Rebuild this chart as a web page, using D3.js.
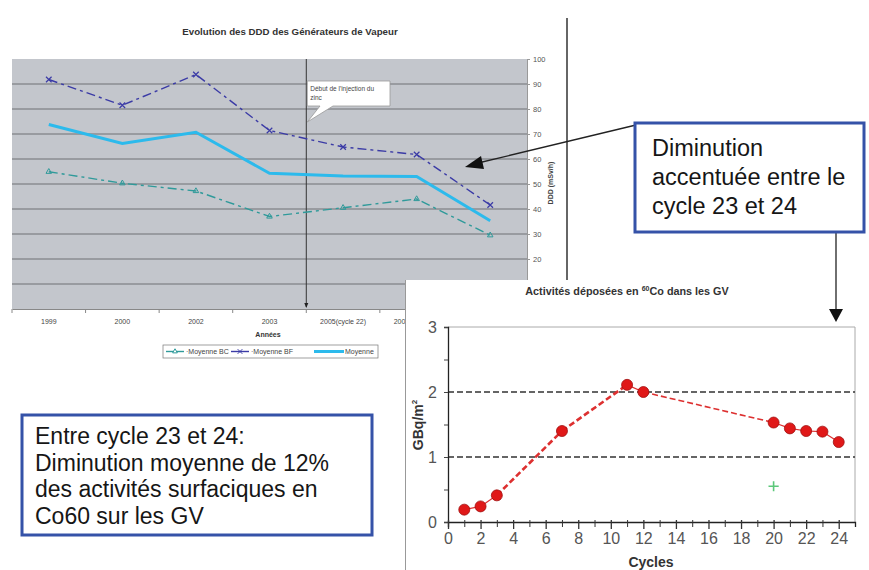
<!DOCTYPE html>
<html>
<head>
<meta charset="utf-8">
<script src="https://cdn.jsdelivr.net/npm/d3@7"></script>
<style>
  body { margin: 0; background: #fff; }
  text { font-family: Arial, "Liberation Sans", sans-serif; }
</style>
</head>
<body>
<div id="chart"></div>
<script>
// Top chart data (DDD des GV)
const years = ["1999", "2000", "2002", "2003", "2005(cycle 22)", "2006(cycle 23)", "2007(cycle 24)"];
const moyenneBC = [54.9, 50.3, 47.2, 37.0, 40.5, 44.0, 29.5];
const moyenneBF = [91.8, 81.5, 93.8, 71.4, 64.8, 61.8, 41.6];
const moyenne = [73.8, 66.2, 70.7, 54.3, 53.2, 53.0, 35.3];
const dddTicks = [20, 30, 40, 50, 60, 70, 80, 90, 100];

// Bottom chart data (60Co activities)
const cycles = [1, 2, 3, 7, 11, 12, 20, 21, 22, 23, 24];
const activite = [0.19, 0.24, 0.41, 1.40, 2.11, 2.00, 1.53, 1.44, 1.40, 1.39, 1.23];
const extraPoint = [{cycle: 20, value: 0.55}];
const cycleTicks = d3.range(0, 25);
const gbqTicks = [0, 0.5, 1, 1.5, 2, 2.5, 3];

const W = 869, H = 570;
const svg = d3.select("#chart").append("svg")
  .attr("width", W)
  .attr("height", H);

// clip for the part of the top chart hidden by the lower panel
svg.append("clipPath").attr("id", "leftOfPanel")
  .append("rect").attr("x", 0).attr("y", 0).attr("width", 405).attr("height", H);

// ---------- Top chart ----------
const topChart = svg.append("g");
const xTop = d3.scaleBand().domain(years).range([12, 527]);
const yTop = d3.scaleLinear().domain([0, 100]).range([309, 59]);

topChart.append("text")
  .attr("x", 290).attr("y", 35)
  .attr("text-anchor", "middle")
  .attr("font-size", 9.7).attr("font-weight", "bold").attr("fill", "#333")
  .text("Evolution des DDD des Générateurs de Vapeur");

topChart.append("rect")
  .attr("x", 12).attr("y", yTop(100))
  .attr("width", 515).attr("height", yTop(0) - yTop(100))
  .attr("fill", "#c3c6cc");

// gridlines
topChart.append("g").selectAll("line")
  .data(d3.range(10, 100, 10))
  .join("line")
  .attr("x1", 12).attr("x2", 527)
  .attr("y1", d => yTop(d)).attr("y2", d => yTop(d))
  .attr("stroke", "#6e7074").attr("stroke-width", 1);

// right axis
const yAx = topChart.append("g")
  .attr("transform", "translate(527,0)")
  .call(d3.axisRight(yTop).tickValues(dddTicks).tickSize(3).tickPadding(3));
yAx.select(".domain").attr("stroke", "#999");
yAx.selectAll("line").attr("stroke", "#999");
yAx.selectAll("text").attr("font-size", 7.5).attr("fill", "#555");

topChart.append("text")
  .attr("transform", "translate(553,183) rotate(-90)")
  .attr("text-anchor", "middle")
  .attr("font-size", 7).attr("font-weight", "bold").attr("fill", "#444")
  .text("DDD (mSv/h)");

// bottom axis
const xAx = topChart.append("g")
  .attr("transform", `translate(0,${yTop(0)})`)
  .call(d3.axisBottom(xTop).tickSize(0).tickPadding(10));
xAx.select(".domain").attr("stroke", "#888");
xAx.selectAll("text").attr("font-size", 7).attr("fill", "#444");
xAx.selectAll(".tick").filter(d => cxBand(d) > 405).remove();
xAx.attr("clip-path", "url(#leftOfPanel)");
function cxBand(d) { return xTop(d) + xTop.bandwidth() / 2 - 20; }
topChart.append("g").selectAll("line")
  .data(years.concat(["end"]))
  .join("line")
  .attr("x1", (d, i) => 12 + i * xTop.step())
  .attr("x2", (d, i) => 12 + i * xTop.step())
  .attr("y1", yTop(0)).attr("y2", yTop(0) + 4)
  .attr("stroke", "#888");

topChart.append("text")
  .attr("x", 268).attr("y", 337)
  .attr("text-anchor", "middle")
  .attr("font-size", 7).attr("font-weight", "bold").attr("fill", "#333")
  .text("Années");

// zinc injection marker
const xZinc = xTop("2005(cycle 22)");
topChart.append("line")
  .attr("x1", xZinc).attr("x2", xZinc)
  .attr("y1", yTop(100)).attr("y2", yTop(0) - 2)
  .attr("stroke", "#333").attr("stroke-width", 1);
topChart.append("path")
  .attr("d", `M${xZinc - 2},${yTop(0) - 6} L${xZinc + 2},${yTop(0) - 6} L${xZinc},${yTop(0) - 1} Z`)
  .attr("fill", "#222");

const cx = d => xTop(d) + xTop.bandwidth() / 2;
const lineTop = d3.line().x((d, i) => cx(years[i])).y(d => yTop(d));

topChart.append("path").datum(moyenneBC)
  .attr("d", lineTop).attr("fill", "none")
  .attr("stroke", "#2f9a9a").attr("stroke-width", 1.4)
  .attr("stroke-dasharray", "9,4,3,4");
topChart.append("path").datum(moyenneBF)
  .attr("d", lineTop).attr("fill", "none")
  .attr("stroke", "#3b3ba6").attr("stroke-width", 1.4)
  .attr("stroke-dasharray", "9,4,3,4");
topChart.append("path").datum(moyenne)
  .attr("d", lineTop).attr("fill", "none")
  .attr("stroke", "#2cbaec").attr("stroke-width", 3);

topChart.append("g").selectAll("path")
  .data(moyenneBC)
  .join("path")
  .attr("transform", (d, i) => `translate(${cx(years[i])},${yTop(d)})`)
  .attr("d", d3.symbol(d3.symbolTriangle2, 22))
  .attr("fill", "none").attr("stroke", "#2f9a9a").attr("stroke-width", 1);
topChart.append("g").selectAll("path")
  .data(moyenneBF)
  .join("path")
  .attr("transform", (d, i) => `translate(${cx(years[i])},${yTop(d)})`)
  .attr("d", d3.symbol(d3.symbolTimes, 22))
  .attr("fill", "none").attr("stroke", "#3b3ba6").attr("stroke-width", 1.2);

// callout
const callout = topChart.append("g");
callout.append("path")
  .attr("d", `M${xZinc + 1},81 L390,81 L390,106 L333,106 L${xZinc + 1},122 L320,106 L${xZinc + 1},106 Z`)
  .attr("fill", "#fff").attr("stroke", "#999").attr("stroke-width", 0.8);
callout.append("text")
  .attr("x", xZinc + 4).attr("y", 91)
  .attr("font-size", 6.5).attr("fill", "#444")
  .selectAll("tspan")
  .data(["Début de l'injection du", "zinc"])
  .join("tspan")
  .attr("x", xZinc + 4)
  .attr("dy", (d, i) => i === 0 ? 0 : 9)
  .text(d => d);

// legend
const leg = topChart.append("g");
leg.append("rect")
  .attr("x", 163).attr("y", 345).attr("width", 215).attr("height", 13)
  .attr("fill", "#fff").attr("stroke", "#777").attr("stroke-width", 0.7);
const legItems = [
  {name: "·Moyenne BC", color: "#2f9a9a", sym: d3.symbolTriangle2, x: 166, len: 18, tx: 186, w: 1.4},
  {name: "·Moyenne BF", color: "#3b3ba6", sym: d3.symbolTimes, x: 231, len: 18, tx: 251, w: 1.4},
  {name: "Moyenne", color: "#2cbaec", sym: null, x: 314, len: 30, tx: 345, w: 3}
];
legItems.forEach(it => {
  leg.append("line")
    .attr("x1", it.x).attr("x2", it.x + it.len)
    .attr("y1", 351.5).attr("y2", 351.5)
    .attr("stroke", it.color).attr("stroke-width", it.w);
  if (it.sym) {
    leg.append("path")
      .attr("transform", `translate(${it.x + it.len / 2},351.5)`)
      .attr("d", d3.symbol(it.sym, 16))
      .attr("fill", "#fff").attr("stroke", it.color);
  }
  leg.append("text")
    .attr("x", it.tx).attr("y", 354)
    .attr("font-size", 7).attr("fill", "#444")
    .text(it.name);
});

// frame line right of top chart
svg.append("line")
  .attr("x1", 567).attr("x2", 567).attr("y1", 18).attr("y2", 280)
  .attr("stroke", "#333").attr("stroke-width", 1.5);

// ---------- Bottom-right chart ----------
const bot = svg.append("g");
bot.append("rect")
  .attr("x", 405).attr("y", 280).attr("width", W - 405).attr("height", H - 280)
  .attr("fill", "#fff");
bot.append("line")
  .attr("x1", 405.5).attr("x2", 405.5).attr("y1", 280).attr("y2", H)
  .attr("stroke", "#999").attr("stroke-width", 1);

const xBot = d3.scaleLinear().domain([0, 25]).range([448, 855]);
const yBot = d3.scaleLinear().domain([0, 3]).range([522, 327]);

const botTitle = bot.append("text")
  .attr("x", 627).attr("y", 295)
  .attr("text-anchor", "middle")
  .attr("font-size", 10.8).attr("font-weight", "bold").attr("fill", "#333");
botTitle.append("tspan").text("Activités déposées en ");
botTitle.append("tspan").attr("font-size", 7).attr("dy", -4).text("60");
botTitle.append("tspan").attr("dy", 4).text("Co dans les GV");

// plot border (top/right)
bot.append("path")
  .attr("d", `M${xBot(0)},${yBot(3)} L${xBot(25)},${yBot(3)} L${xBot(25)},${yBot(0)}`)
  .attr("fill", "none").attr("stroke", "#aaa").attr("stroke-width", 1);

// dashed reference lines
bot.append("g").selectAll("line")
  .data([1, 2])
  .join("line")
  .attr("x1", xBot(0)).attr("x2", xBot(25))
  .attr("y1", d => yBot(d)).attr("y2", d => yBot(d))
  .attr("stroke", "#333").attr("stroke-width", 1.4)
  .attr("stroke-dasharray", "6,3");

const yAxB = bot.append("g")
  .attr("transform", `translate(${xBot(0)},0)`)
  .call(d3.axisLeft(yBot).tickValues(gbqTicks).tickSize(4).tickPadding(7)
    .tickFormat(d => Number.isInteger(d) ? d : ""));
yAxB.select(".domain").attr("stroke", "#222").attr("stroke-width", 1.3);
yAxB.selectAll("line").attr("stroke", "#444");
yAxB.selectAll("text").attr("font-size", 16).attr("fill", "#555");

const xAxB = bot.append("g")
  .attr("transform", `translate(0,${yBot(0)})`)
  .call(d3.axisBottom(xBot).tickValues(cycleTicks).tickSize(5).tickPadding(6)
    .tickFormat(d => d % 2 === 0 ? d : ""));
xAxB.select(".domain").attr("stroke", "#222").attr("stroke-width", 1.3);
xAxB.selectAll(".tick line")
  .attr("y1", -2)
  .attr("y2", d => d % 2 === 0 ? 7 : 5)
  .attr("stroke", "#333").attr("stroke-width", d => d % 2 === 0 ? 1.3 : 1);
xAxB.selectAll("text").attr("font-size", 16).attr("fill", "#555");

bot.append("text")
  .attr("x", 651).attr("y", 567)
  .attr("text-anchor", "middle")
  .attr("font-size", 14).attr("font-weight", "bold").attr("fill", "#333")
  .text("Cycles");
const yt = bot.append("text")
  .attr("transform", "translate(423,425) rotate(-90)")
  .attr("text-anchor", "middle")
  .attr("font-size", 14).attr("font-weight", "bold").attr("fill", "#333");
yt.append("tspan").text("GBq/m");
yt.append("tspan").attr("font-size", 8).attr("dy", -6).text("2");

// segments between successive cycles
const pts = cycles.map((c, i) => ({cycle: c, value: activite[i]}));
const segs = d3.pairs(pts);
bot.append("g").selectAll("line")
  .data(segs)
  .join("line")
  .attr("x1", d => xBot(d[0].cycle)).attr("y1", d => yBot(d[0].value))
  .attr("x2", d => xBot(d[1].cycle)).attr("y2", d => yBot(d[1].value))
  .attr("stroke", "#dd3030")
  .attr("stroke-width", d => {
    const gap = d[1].cycle - d[0].cycle;
    return gap === 1 ? 1.2 : (gap >= 6 ? 1.6 : 2.6);
  })
  .attr("stroke-dasharray", d => d[1].cycle - d[0].cycle > 1 ? "6,3" : null);

bot.append("g").selectAll("circle")
  .data(pts)
  .join("circle")
  .attr("cx", d => xBot(d.cycle)).attr("cy", d => yBot(d.value))
  .attr("r", 5.5)
  .attr("fill", "#e01818").attr("stroke", "#a01010").attr("stroke-width", 0.8);

bot.append("g").selectAll("path")
  .data(extraPoint)
  .join("path")
  .attr("transform", d => `translate(${xBot(d.cycle)},${yBot(d.value)})`)
  .attr("d", d3.symbol(d3.symbolPlus, 36))
  .attr("fill", "none").attr("stroke", "#5cc87a").attr("stroke-width", 1.6);

// ---------- Annotations ----------
const ann = svg.append("g");
// arrow from box 1 to the top chart
ann.append("line")
  .attr("x1", 636).attr("y1", 125).attr("x2", 478).attr("y2", 163)
  .attr("stroke", "#222").attr("stroke-width", 1.3);
ann.append("path")
  .attr("d", "M465,167 L481,156 L484,169 Z")
  .attr("fill", "#111");

// arrow from box 1 down to cycle 24
ann.append("line")
  .attr("x1", 836).attr("y1", 232).attr("x2", 836).attr("y2", 312)
  .attr("stroke", "#222").attr("stroke-width", 1.3);
ann.append("path")
  .attr("d", "M829,309 L843,309 L836,322 Z")
  .attr("fill", "#111");

function textBox(x, y, w, h, lines, fs, x0, y0, dy) {
  const g = svg.append("g");
  g.append("rect")
    .attr("x", x).attr("y", y).attr("width", w).attr("height", h)
    .attr("fill", "#fff").attr("stroke", "#3552a8").attr("stroke-width", 3);
  g.append("g").selectAll("text")
    .data(lines)
    .join("text")
    .attr("x", x0).attr("y", (d, i) => y0 + i * dy)
    .attr("font-size", fs).attr("fill", "#161616")
    .text(d => d);
}

textBox(635, 123, 229, 109,
  ["Diminution", "accentuée entre le", "cycle 23 et 24"],
  23.5, 652, 156, 29);

textBox(22, 415, 350, 120,
  ["Entre cycle 23 et 24:", "Diminution moyenne de 12%", "des activités surfaciques en", "Co60 sur les GV"],
  23, 35, 444, 26.5);
</script>
</body>
</html>
